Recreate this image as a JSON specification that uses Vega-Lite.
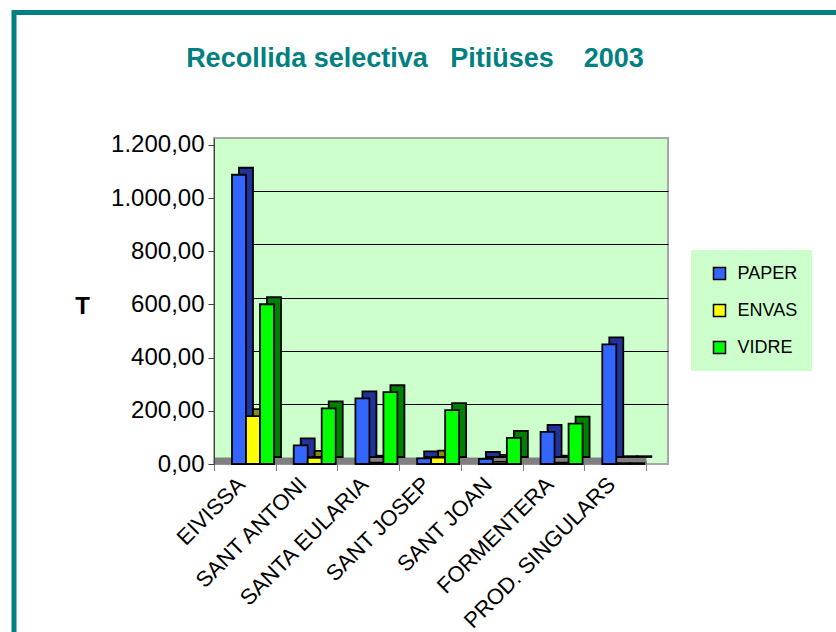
{
  "$schema": "https://vega.github.io/schema/vega-lite/v6.json",
  "autosize": "none",
  "padding": {"left": 214, "top": 138, "right": 168, "bottom": 168},
  "width": 454,
  "height": 326,
  "background": "white",
  "title": {
    "text": "Recollida selectiva\u00a0\u00a0 Pitiüses\u00a0\u00a0\u00a0 2003",
    "fontSize": 27,
    "fontWeight": "bold",
    "font": "Liberation Sans",
    "color": "#008080",
    "anchor": "middle",
    "frame": "group",
    "dx": -26,
    "offset": -63
  },
  "data": {
    "values": [
      {"municipi": "EIVISSA", "residu": "PAPER", "T": 1088},
      {"municipi": "EIVISSA", "residu": "ENVAS", "T": 180},
      {"municipi": "EIVISSA", "residu": "VIDRE", "T": 601},
      {"municipi": "SANT ANTONI", "residu": "PAPER", "T": 70},
      {"municipi": "SANT ANTONI", "residu": "ENVAS", "T": 23},
      {"municipi": "SANT ANTONI", "residu": "VIDRE", "T": 209},
      {"municipi": "SANTA EULARIA", "residu": "PAPER", "T": 247},
      {"municipi": "SANTA EULARIA", "residu": "ENVAS", "T": 5},
      {"municipi": "SANTA EULARIA", "residu": "VIDRE", "T": 270},
      {"municipi": "SANT JOSEP", "residu": "PAPER", "T": 21},
      {"municipi": "SANT JOSEP", "residu": "ENVAS", "T": 24},
      {"municipi": "SANT JOSEP", "residu": "VIDRE", "T": 203},
      {"municipi": "SANT JOAN", "residu": "PAPER", "T": 19},
      {"municipi": "SANT JOAN", "residu": "ENVAS", "T": 8},
      {"municipi": "SANT JOAN", "residu": "VIDRE", "T": 98},
      {"municipi": "FORMENTERA", "residu": "PAPER", "T": 121},
      {"municipi": "FORMENTERA", "residu": "ENVAS", "T": 5},
      {"municipi": "FORMENTERA", "residu": "VIDRE", "T": 152},
      {"municipi": "PROD. SINGULARS", "residu": "PAPER", "T": 450},
      {"municipi": "PROD. SINGULARS", "residu": "ENVAS", "T": 3},
      {"municipi": "PROD. SINGULARS", "residu": "VIDRE", "T": 3}
    ]
  },
  "config": {
    "font": "Liberation Sans",
    "locale": {"number": {"decimal": ",", "thousands": ".", "grouping": [3], "currency": ["", " €"]}},
    "view": {"fill": "#CCFFCC", "stroke": "#A8A8A8", "strokeWidth": 2},
    "legend": {"strokeWidth": 5}
  },
  "layer": [
    {
      "mark": {"type": "bar", "stroke": "black", "strokeWidth": 1.8},
      "encoding": {
        "x": {
          "field": "municipi",
          "type": "nominal",
          "sort": null,
          "scale": {"range": [0, 432], "paddingInner": 0, "paddingOuter": 0},
          "axis": {
            "title": null,
            "tickBand": "extent",
            "labelAngle": -45,
            "labelAlign": "right",
            "labelBaseline": "middle",
            "labelFontSize": 22,
            "labelColor": "black",
            "labelPadding": 10,
            "labelOffset": -4,
            "labelLimit": 400,
            "labelOverlap": false,
            "tickSize": 10,
            "tickColor": "#808080",
            "domainColor": "#808080",
            "domainWidth": 7,
            "offset": -3.5
          }
        },
        "xOffset": {
          "field": "residu",
          "type": "nominal",
          "sort": ["PAPER", "ENVAS", "VIDRE"],
          "scale": {"range": [25, 67], "paddingInner": 0, "paddingOuter": 0}
        },
        "y": {
          "field": "T",
          "type": "quantitative",
          "scale": {"domain": [-26.3, 1200], "nice": false, "zero": false},
          "axis": {
            "orient": "right",
            "grid": true,
            "gridColor": "black",
            "gridWidth": 1,
            "values": [200, 400, 600, 800, 1000],
            "labels": false,
            "ticks": false,
            "domain": false,
            "title": null
          }
        },
        "color": {
          "field": "residu",
          "type": "nominal",
          "scale": {"domain": ["PAPER", "ENVAS", "VIDRE"], "range": ["#1F3399", "#8C8C00", "#008000"]},
          "legend": null
        },
        "opacity": {
          "datum": "marc1",
          "type": "nominal",
          "scale": {"domain": ["marc1"], "range": [1]},
          "legend": {"orient": "none", "legendX": -200, "legendY": -125.5, "padding": 700, "title": null, "strokeColor": "#008080", "cornerRadius": 0, "labelExpr": "''", "symbolOpacity": 0}
        }
      }
    },
    {
      "mark": {"type": "bar", "stroke": "black", "strokeWidth": 1.8},
      "encoding": {
        "x": {"field": "municipi", "type": "nominal", "sort": null},
        "xOffset": {
          "field": "residu",
          "type": "nominal",
          "sort": ["PAPER", "ENVAS", "VIDRE"],
          "scale": {"range": [18, 60], "paddingInner": 0, "paddingOuter": 0}
        },
        "y": {
          "field": "T",
          "type": "quantitative",
          "scale": {"domain": [0, 1226.3], "nice": false},
          "axis": {
            "orient": "left",
            "values": [0, 200, 400, 600, 800, 1000, 1200],
            "format": ",.2f",
            "grid": false,
            "labelFontSize": 24,
            "labelColor": "black",
            "labelPadding": 4,
            "tickSize": 6,
            "tickColor": "#404040",
            "domainColor": "#404040",
            "title": "T",
            "titleAngle": 0,
            "titleFontSize": 24,
            "titleFontWeight": "bold",
            "titleColor": "black",
            "titleX": -132,
            "titleY": 168,
            "titleAlign": "center",
            "titleBaseline": "middle"
          }
        },
        "color": {
          "field": "residu",
          "type": "nominal",
          "sort": ["PAPER", "ENVAS", "VIDRE"],
          "scale": {"domain": ["PAPER", "ENVAS", "VIDRE"], "range": ["#3366FF", "#FFFF00", "#00FF00"]},
          "legend": {
            "orient": "none",
            "legendX": 479.5,
            "legendY": 114.5,
            "title": null,
            "fillColor": "#CCFFCC",
            "strokeColor": "#CCFFCC",
            "padding": 12,
            "rowPadding": 19,
            "symbolType": "square",
            "symbolSize": 144,
            "symbolStrokeColor": "black",
            "symbolStrokeWidth": 1.5,
            "symbolOffset": 5,
            "labelOffset": 9,
            "labelFontSize": 18,
            "labelColor": "black",
            "cornerRadius": 0
          }
        }
      }
    }
  ],
  "resolve": {"scale": {"y": "independent", "color": "independent", "xOffset": "independent"}}
}
